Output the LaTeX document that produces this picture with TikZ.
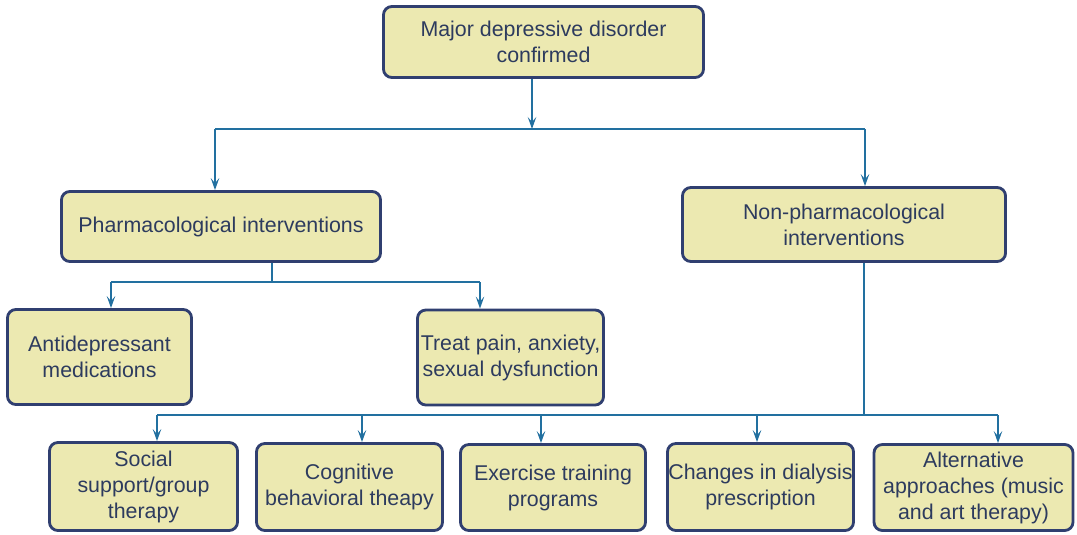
\documentclass[tikz,border=0pt]{standalone}
\usepackage{fontspec}
\setmainfont{Liberation Sans}
\usetikzlibrary{arrows.meta}
\definecolor{boxfill}{HTML}{ECE9B1}
\definecolor{boxline}{HTML}{303F70}
\definecolor{boxtext}{HTML}{2D3B5E}
\definecolor{linkblue}{HTML}{2270A0}

\begin{document}
\begin{tikzpicture}[x=0.025cm, y=-0.025cm,
        box/.style={draw=boxline, fill=boxfill, line width=2pt, rounded corners=6pt,
            text=boxtext, align=center, inner sep=0pt, font=\fontsize{15.2}{18.5}\selectfont},
        link/.style={draw=linkblue, line width=1.1pt},
        arr/.style={link, -{Stealth[length=8.5pt, width=6pt, inset=3.5pt]}}]
    \useasboundingbox (0,0) rectangle (1077,534);

    % boxes
    \node[box, minimum width=8cm, minimum height=1.775cm] (top) at (543.5,42) {Major depressive disorder\\confirmed};
    \node[box, minimum width=7.975cm, minimum height=1.75cm] (pharm) at (221,226.5) {Pharmacological interventions};
    \node[box, minimum width=8.075cm, minimum height=1.85cm] (nonph) at (844,224.5) {Non-pharmacological\\interventions};
    \node[box, minimum width=4.6cm, minimum height=2.375cm] (anti) at (99.5,357) {Antidepressant\\medications};
    \node[box, minimum width=4.65cm, minimum height=2.375cm] (treat) at (510.5,357.5) {Treat pain, anxiety,\\sexual dysfunction};
    \node[box, minimum width=4.7cm, minimum height=2.2cm] (social) at (143.5,486.5) {Social\\support/group\\therapy};
    \node[box, minimum width=4.65cm, minimum height=2.175cm] (cogn) at (349.5,487) {Cognitive\\behavioral theapy};
    \node[box, minimum width=4.625cm, minimum height=2.15cm] (exer) at (553,487.5) {Exercise training\\programs};
    \node[box, minimum width=4.65cm, minimum height=2.175cm] (chang) at (760.5,487) {Changes in dialysis\\prescription};
    \node[box, minimum width=4.975cm, minimum height=2.15cm] (alt) at (973.5,487.5) {Alternative\\approaches (music\\and art therapy)};

    % first split
    \coordinate (topsplit) at (532,129);
    \coordinate (lsplit) at (215,129);
    \coordinate (rsplit) at (865,129);
    \draw[arr] (top.south -| topsplit) -- (topsplit);
    \draw[link] (lsplit) -- (rsplit);
    \draw[arr] (lsplit) -- (lsplit |- pharm.north);
    \draw[arr] (rsplit) -- (rsplit |- nonph.north);

    % pharmacological branch
    \coordinate (pbus) at (272,282);
    \coordinate (pbusl) at (111,282);
    \coordinate (pbusr) at (480,282);
    \draw[link] (pharm.south -| pbus) -- (pbus);
    \draw[link] (pbusl) -- (pbusr);
    \draw[arr] (pbusl) -- (pbusl |- anti.north);
    \draw[arr] (pbusr) -- (pbusr |- treat.north);

    % non-pharmacological branch
    \coordinate (nbus) at (864,415);
    \draw[link] (nonph.south -| nbus) -- (nbus);
    \foreach \x/\t in {157/social, 362/cogn, 541/exer, 757/chang, 998/alt} {
        \coordinate (drop\t) at (\x,415);
        \draw[arr] (drop\t) -- (drop\t |- \t.north);
    }
    \draw[link] (dropsocial) -- (dropalt);
\end{tikzpicture}
\end{document}
